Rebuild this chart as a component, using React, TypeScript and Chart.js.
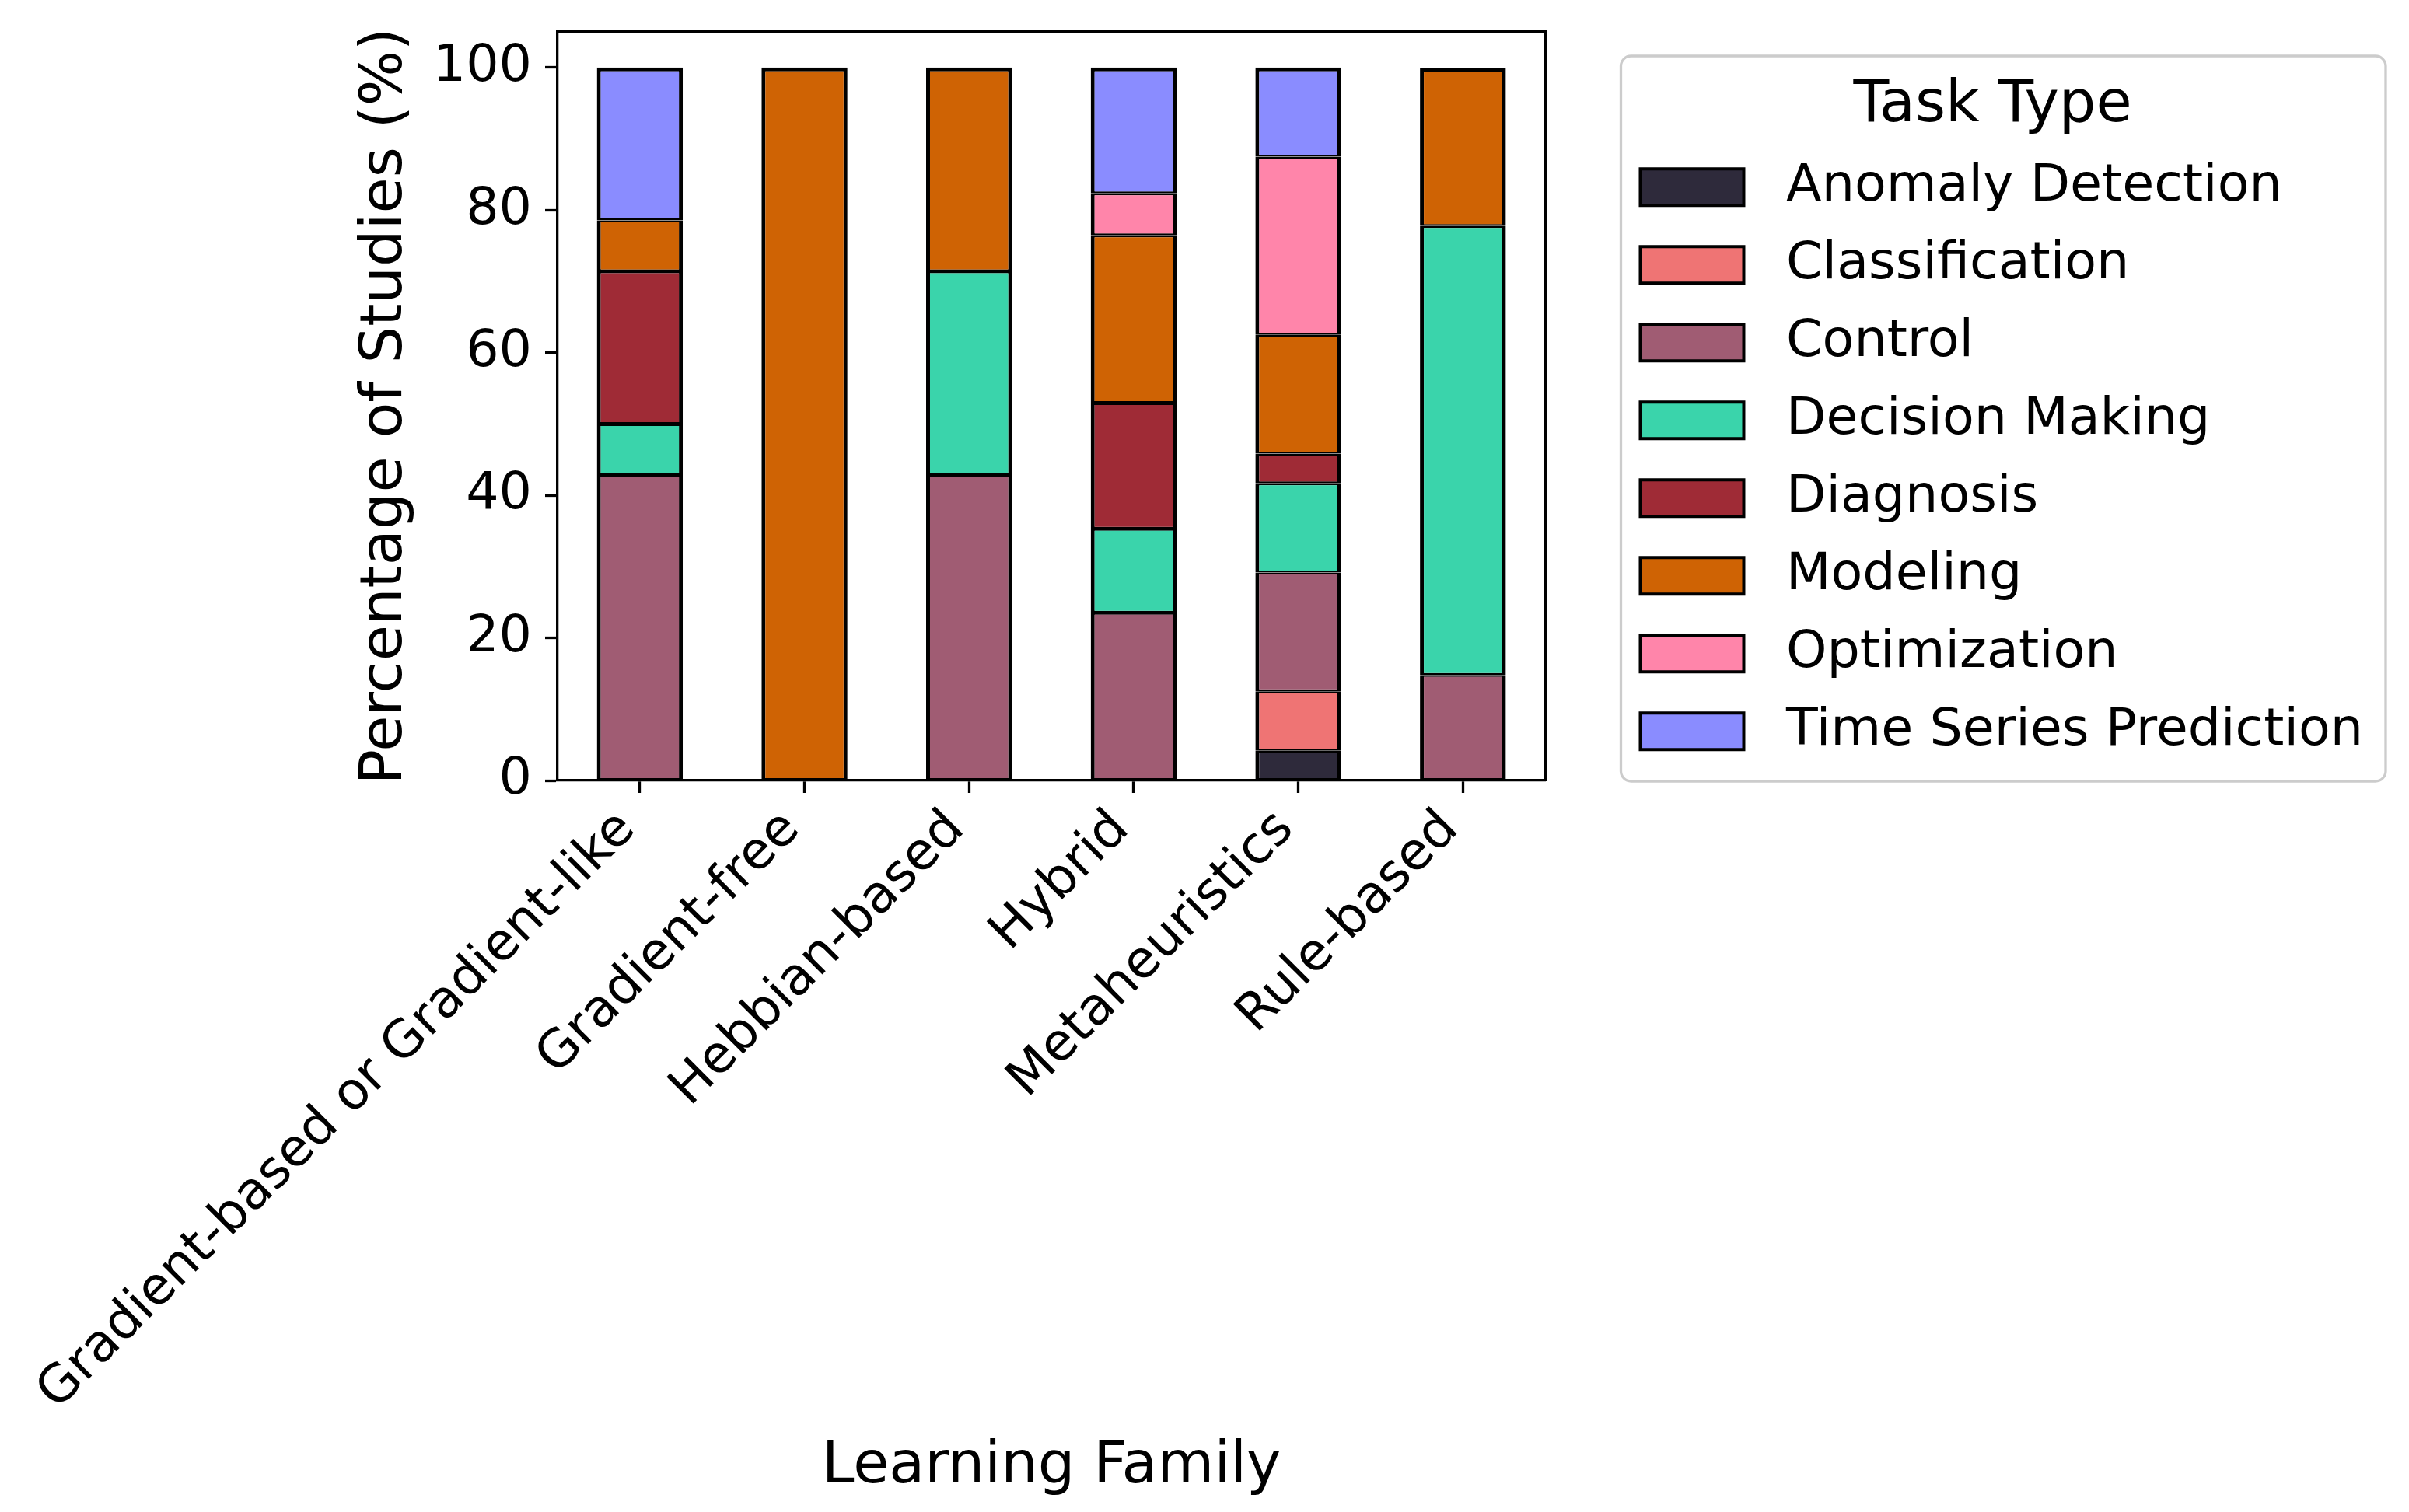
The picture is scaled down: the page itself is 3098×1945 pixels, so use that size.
import React, { useEffect, useRef } from 'react';
import { Chart, registerables } from 'chart.js';

Chart.register(...registerables);

const categories = [
  'Gradient-based or Gradient-like',
  'Gradient-free',
  'Hebbian-based',
  'Hybrid',
  'Metaheuristics',
  'Rule-based',
];

const seriesNames = [
  'Anomaly Detection',
  'Classification',
  'Control',
  'Decision Making',
  'Diagnosis',
  'Modeling',
  'Optimization',
  'Time Series Prediction',
];

const anomalyDetection = [0, 0, 0, 0, 4.17, 0];
const classification = [0, 0, 0, 0, 8.33, 0];
const control = [42.86, 0, 42.86, 23.53, 16.67, 14.81];
const decisionMaking = [7.14, 0, 28.57, 11.76, 12.5, 62.96];
const diagnosis = [21.43, 0, 0, 17.65, 4.17, 0];
const modeling = [7.14, 100, 28.57, 23.53, 16.67, 22.22];
const optimization = [0, 0, 0, 5.88, 25, 0];
const timeSeriesPrediction = [21.43, 0, 0, 17.65, 12.5, 0];

const seriesColors = [
  '#2e2a3b',
  '#ef7474',
  '#a05c73',
  '#3ad4ab',
  '#9f2b36',
  '#cf6304',
  '#ff85aa',
  '#8a8cff',
];

const yTickValues = [0, 20, 40, 60, 80, 100];

const W = 3098;
const H = 1945;

export default function App() {
  const ref = useRef<HTMLCanvasElement>(null);

  useEffect(() => {
    const canvas = ref.current;
    if (!canvas) return;
    Chart.defaults.font.family = "'DejaVu Sans', sans-serif";
    Chart.defaults.color = '#000';

    const series = [
      anomalyDetection,
      classification,
      control,
      decisionMaking,
      diagnosis,
      modeling,
      optimization,
      timeSeriesPrediction,
    ];

    // index of the top-most non-empty segment for each category
    const topSeries = categories.map((_, ci) => {
      let top = -1;
      series.forEach((vals, si) => {
        if (vals[ci] > 0) top = si;
      });
      return top;
    });

    const legendFrame = {
      id: 'legendFrame',
      afterDraw(chart: any) {
        const lg = chart.legend;
        if (!lg || !lg.legendHitBoxes || !lg.legendHitBoxes.length) return;
        const hb = lg.legendHitBoxes as any[];
        const l = Math.min(...hb.map((b) => b.left)) - 25;
        const r = Math.max(...hb.map((b) => b.left + b.width)) + 29;
        const t = lg.top + 31;
        const b = Math.max(...hb.map((h) => h.top + h.height)) + 31;
        const ctx = chart.ctx;
        ctx.save();
        ctx.strokeStyle = '#cccccc';
        ctx.lineWidth = 3.3;
        ctx.beginPath();
        ctx.roundRect(l, t, r - l, b - t, 13);
        ctx.stroke();
        ctx.restore();
      },
    };

    const border = { display: true, color: '#000', width: 3.3, z: 1 };

    const chart = new Chart(canvas, {
      type: 'bar',
      data: {
        labels: categories,
        datasets: series.map((vals, i) => ({
          label: seriesNames[i],
          data: vals.map((v) => (v === 0 ? null : v)),
          backgroundColor: seriesColors[i],
          borderColor: '#000',
          borderWidth: (c: any) => ({
            left: 5,
            right: 5,
            top: topSeries[c.dataIndex] === c.datasetIndex ? 5 : 2.5,
            bottom: 2.5,
          }),
          borderSkipped: false,
          barPercentage: 0.522,
          categoryPercentage: 1,
          xAxisID: 'x',
          yAxisID: 'y',
        })),
      },
      options: {
        responsive: false,
        animation: false,
        devicePixelRatio: 1,
        layout: { padding: { top: 41, left: 440, right: 49, bottom: 0 } },
        scales: {
          x: {
            type: 'category',
            stacked: true,
            offset: true,
            grid: {
              display: true,
              drawOnChartArea: false,
              drawTicks: true,
              tickLength: 16,
              tickWidth: 3.3,
              tickColor: '#000',
              offset: false,
            },
            border,
            ticks: {
              font: { size: 66.7 },
              color: '#000',
              minRotation: 45,
              maxRotation: 45,
              padding: 8,
              labelOffset: -16,
              autoSkip: false,
            },
            title: {
              display: true,
              text: 'Learning Family',
              font: { size: 75 },
              color: '#000',
              padding: { top: 0, bottom: 12 },
            },
            afterFit: (s: any) => {
              s.height = 941;
              s.paddingLeft = 0;
              s.paddingRight = 0;
            },
          },
          y: {
            type: 'linear',
            stacked: true,
            min: 0,
            max: 105,
            grid: {
              display: true,
              drawOnChartArea: false,
              drawTicks: true,
              tickLength: 16,
              tickWidth: 3.3,
              tickColor: '#000',
            },
            border,
            ticks: { font: { size: 66.7 }, color: '#000', padding: 17 },
            afterBuildTicks: (s: any) => {
              s.ticks = yTickValues.map((v) => ({ value: v }));
            },
            title: {
              display: true,
              text: 'Percentage of Studies (%)',
              font: { size: 75 },
              color: '#000',
              padding: { top: 12, bottom: 0 },
            },
            afterFit: (s: any) => {
              s.width = 277;
              s.paddingTop = 0;
              s.paddingBottom = 0;
            },
          },
          xTop: {
            type: 'category',
            axis: 'x',
            position: 'top',
            grid: { display: false },
            ticks: { display: false },
            border,
            afterFit: (s: any) => {
              s.height = 0;
              s.paddingLeft = 0;
              s.paddingRight = 0;
            },
          },
          yRight: {
            type: 'linear',
            axis: 'y',
            position: 'right',
            grid: { display: false },
            ticks: { display: false },
            border,
            afterFit: (s: any) => {
              s.width = 89;
              s.paddingTop = 0;
              s.paddingBottom = 0;
            },
          },
        } as any,
        plugins: {
          tooltip: { enabled: false },
          legend: {
            display: true,
            position: 'right',
            align: 'start',
            maxWidth: 1200,
            title: {
              display: true,
              text: 'Task Type',
              color: '#000',
              font: { size: 75, lineHeight: 1 },
              padding: { top: 58, bottom: 0 },
            },
            labels: {
              font: { size: 66.7 },
              color: '#000',
              boxWidth: 133,
              boxHeight: 47,
              padding: 33.3,
              generateLabels: (c: any) =>
                (Chart.defaults.plugins.legend.labels.generateLabels as any)(c).map((it: any) => ({
                  ...it,
                  text: ' ' + it.text,
                  lineWidth: 4,
                  strokeStyle: '#000',
                })),
            },
          } as any,
        },
      },
      plugins: [legendFrame],
    });

    return () => {
      chart.destroy();
    };
  }, []);

  return (
    <div style={{ position: 'absolute', left: 0, top: 0, width: W, height: H, background: '#fff' }}>
      <canvas ref={ref} width={W} height={H} style={{ display: 'block', width: W, height: H }} />
    </div>
  );
}
